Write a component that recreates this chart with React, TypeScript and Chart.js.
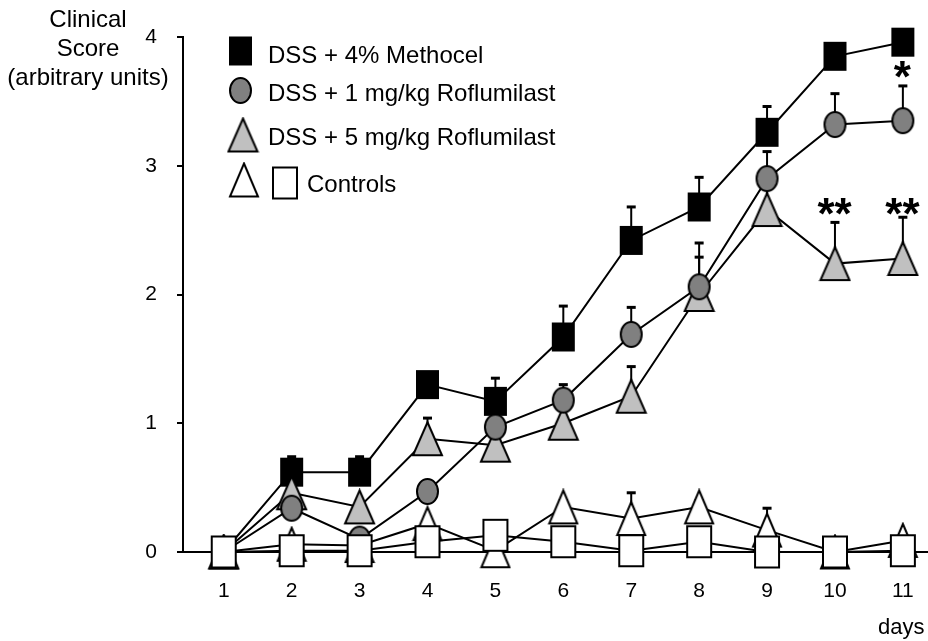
import React, { useEffect, useRef } from "react";
import { Chart, registerables } from "chart.js";

Chart.register(...registerables);

// ---------- data ----------
const days = [1, 2, 3, 4, 5, 6, 7, 8, 9, 10, 11];
const yTickValues = [0, 1, 2, 3, 4];

const methocel = [0, 0.62, 0.62, 1.3, 1.17, 1.67, 2.42, 2.68, 3.26, 3.85, 3.96];
const methocelErr = [0, 0.12, 0.12, 0.05, 0.18, 0.24, 0.26, 0.23, 0.2, 0.05, 0.03];

const roflu1 = [0, 0.34, 0.1, 0.47, 0.97, 1.18, 1.69, 2.06, 2.9, 3.32, 3.35];
const roflu1Err = [0, 0.05, 0.02, 0.05, 0.05, 0.12, 0.21, 0.34, 0.21, 0.24, 0.27];

const roflu5 = [0, 0.46, 0.35, 0.88, 0.83, 1.0, 1.21, 2.0, 2.66, 2.24, 2.28];
const roflu5Err = [0, 0.05, 0.05, 0.16, 0.05, 0.1, 0.23, 0.29, 0.2, 0.32, 0.32];

const ctrlTri = [0, 0.06, 0.05, 0.22, 0.01, 0.35, 0.26, 0.35, 0.17, 0, 0.09];
const ctrlTriErr = [0, 0, 0, 0.05, 0, 0.05, 0.2, 0.05, 0.17, 0.02, 0.02];

const ctrlSq = [0, 0.01, 0.01, 0.08, 0.13, 0.08, 0.01, 0.08, 0.0, 0, 0.01];
const ctrlSqErr = [0, 0.02, 0.02, 0.02, 0.02, 0.02, 0.02, 0.02, 0.02, 0.02, 0.02];

const legendLabels = [
  "DSS + 4% Methocel",
  "DSS + 1 mg/kg Roflumilast",
  "DSS + 5 mg/kg Roflumilast",
  "Controls",
];
const yTitleLines = ["Clinical", "Score", "(arbitrary units)"];
const xTitle = "days";

const starDays = [11, 10, 11];
const starValues = [3.75, 2.68, 2.68];
const starLabels = ["*", "**", "**"];

const FONT = "'Liberation Sans', Arial, Helvetica, sans-serif";

// ---------- marker images ----------
type Kind = "rect" | "ellipse" | "tri";
function makeMarker(kind: Kind, w: number, h: number, fill: string): HTMLCanvasElement {
  const c = document.createElement("canvas");
  const pad = 2;
  c.width = w + pad * 2;
  c.height = h + pad * 2;
  const ctx = c.getContext("2d")!;
  ctx.fillStyle = fill;
  ctx.strokeStyle = "#000";
  ctx.lineWidth = 2;
  ctx.lineJoin = "miter";
  ctx.beginPath();
  if (kind === "rect") {
    ctx.rect(pad, pad, w, h);
  } else if (kind === "ellipse") {
    ctx.ellipse(pad + w / 2, pad + h / 2, w / 2, h / 2, 0, 0, Math.PI * 2);
  } else {
    ctx.moveTo(pad + w / 2, pad);
    ctx.lineTo(pad + w, pad + h);
    ctx.lineTo(pad, pad + h);
    ctx.closePath();
  }
  ctx.fill();
  ctx.stroke();
  return c;
}

export default function App() {
  const ref = useRef<HTMLCanvasElement | null>(null);

  useEffect(() => {
    document.body.style.margin = "0";
    const canvas = ref.current;
    if (!canvas) return;

    const mBlackSq = makeMarker("rect", 21, 27, "#000");
    const mGrayCircle = makeMarker("ellipse", 21, 25, "#808080");
    const mLightTri = makeMarker("tri", 29, 33, "#c0c0c0");
    const mWhiteTri = makeMarker("tri", 28, 33, "#ffffff");
    const mWhiteSq = makeMarker("rect", 24, 31, "#ffffff");

    const toXY = (arr: number[]) => days.map((d, i) => ({ x: d, y: arr[i] }));

    const mk = (label: string, arr: number[], err: number[], marker: HTMLCanvasElement) => ({
      label,
      data: toXY(arr),
      errors: err,
      borderColor: "#000",
      borderWidth: 2,
      backgroundColor: "#000",
      pointStyle: marker,
      pointRadius: 12,
      pointHoverRadius: 12,
      tension: 0,
      fill: false,
      clip: false as any,
    });

    // index 0 drawn on top
    const datasets = [
      mk("Controls (square)", ctrlSq, ctrlSqErr, mWhiteSq),
      mk(legendLabels[1], roflu1, roflu1Err, mGrayCircle),
      mk(legendLabels[2], roflu5, roflu5Err, mLightTri),
      mk(legendLabels[0], methocel, methocelErr, mBlackSq),
      mk("Controls (triangle)", ctrlTri, ctrlTriErr, mWhiteTri),
    ];

    const errorBars = {
      id: "errorBars",
      beforeDatasetDraw(chart: any, args: any) {
        const ds = chart.data.datasets[args.index];
        const errs: number[] = ds.errors || [];
        const xs = chart.scales.x;
        const ys = chart.scales.y;
        const ctx = chart.ctx;
        ctx.save();
        ctx.strokeStyle = "#000";
        ds.data.forEach((p: any, i: number) => {
          const e = errs[i];
          if (!e || e <= 0) return;
          const x = xs.getPixelForValue(p.x);
          const y0 = ys.getPixelForValue(p.y);
          const y1 = ys.getPixelForValue(p.y + e);
          ctx.lineWidth = 2;
          ctx.beginPath();
          ctx.moveTo(x, y0);
          ctx.lineTo(x, y1);
          ctx.stroke();
          ctx.lineWidth = 3;
          ctx.beginPath();
          ctx.moveTo(x - 4.5, y1);
          ctx.lineTo(x + 4.5, y1);
          ctx.stroke();
        });
        ctx.restore();
      },
    };

    const decorations = {
      id: "decorations",
      afterDraw(chart: any) {
        const ctx = chart.ctx;
        const xs = chart.scales.x;
        const ys = chart.scales.y;
        ctx.save();
        ctx.fillStyle = "#000";
        // y title
        ctx.font = `24px ${FONT}`;
        ctx.textAlign = "center";
        ctx.textBaseline = "alphabetic";
        const titleCenters = [18.5, 47.5, 76];
        yTitleLines.forEach((t, i) => {
          ctx.fillText(t, 88, titleCenters[i] + 0.358 * 24);
        });
        // x title
        ctx.font = `22px ${FONT}`;
        ctx.textAlign = "left";
        ctx.fillText(xTitle, 878, 634);

        // legend
        ctx.font = `24px ${FONT}`;
        ctx.textAlign = "left";
        const rowCenters = [54, 92.5, 136.5, 183.5];
        const drawImg = (img: HTMLCanvasElement, cx: number, cy: number) =>
          ctx.drawImage(img, cx - img.width / 2, cy - img.height / 2);
        drawImg(mBlackSq, 240.5, 51);
        drawImg(mGrayCircle, 240.5, 90.5);
        drawImg(mLightTri, 243, 135);
        drawImg(mWhiteTri, 244, 180);
        drawImg(mWhiteSq, 285, 183);
        ctx.fillText(legendLabels[0], 268, rowCenters[0] + 0.358 * 24);
        ctx.fillText(legendLabels[1], 268, rowCenters[1] + 0.358 * 24);
        ctx.fillText(legendLabels[2], 268, rowCenters[2] + 0.358 * 24);
        ctx.fillText(legendLabels[3], 307, rowCenters[3] + 0.358 * 24);

        // significance stars
        ctx.font = `bold 44px ${FONT}`;
        ctx.textAlign = "left";
        starLabels.forEach((s, i) => {
          const m = ctx.measureText(s);
          const gw = m.actualBoundingBoxLeft + m.actualBoundingBoxRight;
          const gh = m.actualBoundingBoxAscent + m.actualBoundingBoxDescent;
          const cx = xs.getPixelForValue(starDays[i]);
          const cy = ys.getPixelForValue(starValues[i]);
          const x = cx - gw / 2 + m.actualBoundingBoxLeft;
          const y = cy - gh / 2 + m.actualBoundingBoxAscent;
          ctx.fillText(s, x, y);
        });
        ctx.restore();
      },
    };

    const chart = new Chart(canvas, {
      type: "line",
      data: { datasets: datasets as any },
      options: {
        animation: false,
        responsive: true,
        maintainAspectRatio: false,
        layout: { autoPadding: false, padding: { top: 37, right: 0, bottom: 0, left: 0 } },
        plugins: {
          legend: { display: false },
          tooltip: { enabled: false },
        },
        events: [],
        scales: {
          x: {
            type: "linear",
            min: 0.4,
            max: 11.37,
            afterBuildTicks: (s: any) => {
              s.ticks = days.map((v) => ({ value: v }));
            },
            afterFit: (s: any) => {
              s.height = 89;
              s.paddingLeft = 0;
              s.paddingRight = 0;
            },
            grid: { display: false, drawTicks: false },
            border: { display: true, color: "#000", width: 2 },
            ticks: {
              padding: 27,
              color: "#000",
              font: { family: FONT, size: 21 },
              autoSkip: false,
              maxRotation: 0,
            },
          },
          y: {
            type: "linear",
            min: 0,
            max: 4,
            afterBuildTicks: (s: any) => {
              s.ticks = yTickValues.map((v) => ({ value: v }));
            },
            afterFit: (s: any) => {
              s.width = 183;
              s.paddingTop = 0;
              s.paddingBottom = 0;
            },
            grid: {
              display: true,
              drawOnChartArea: false,
              drawTicks: true,
              tickLength: 6,
              color: "#000",
              lineWidth: 2,
            },
            border: { display: true, color: "#000", width: 2 },
            ticks: {
              padding: 20,
              color: "#000",
              font: { family: FONT, size: 21 },
            },
          },
        },
      } as any,
      plugins: [errorBars, decorations],
    });

    return () => chart.destroy();
  }, []);

  return (
    <div style={{ width: 928, height: 641, position: "relative", background: "#fff" }}>
      <canvas ref={ref} />
    </div>
  );
}
